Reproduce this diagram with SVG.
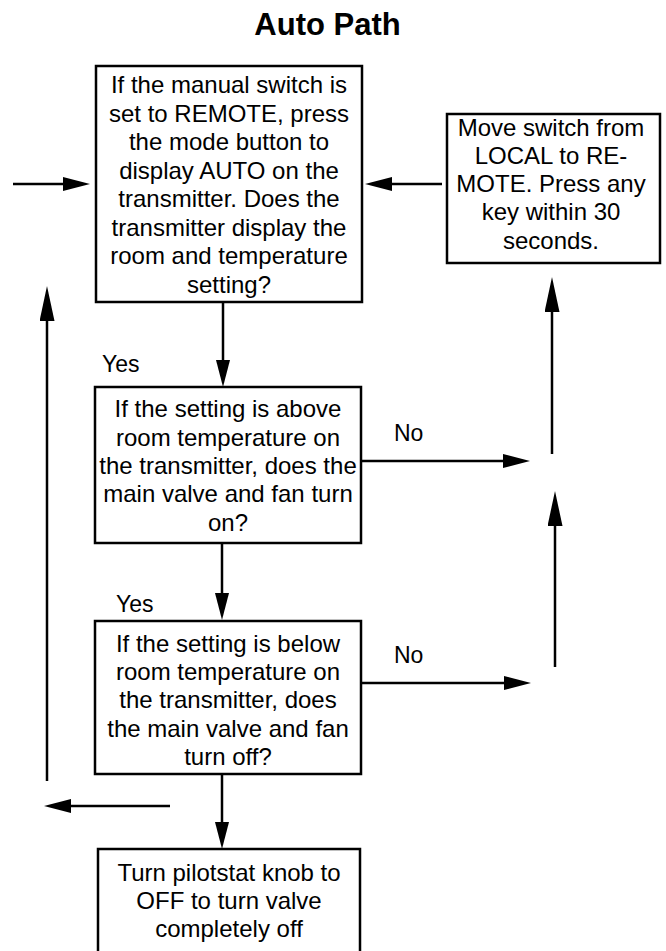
<svg xmlns="http://www.w3.org/2000/svg" width="666" height="951" viewBox="0 0 666 951">
  <style>
    .box { fill: #ffffff; stroke: #000000; stroke-width: 2.5; }
    .txt { font-family: "Liberation Sans", Arial, sans-serif; font-size: 24px; fill: #000000; text-anchor: middle; }
    .lbl { font-family: "Liberation Sans", Arial, sans-serif; font-size: 23px; fill: #000000; }
    .title { font-family: "Liberation Sans", Arial, sans-serif; font-size: 31px; font-weight: bold; fill: #000000; text-anchor: middle; }
    .conn { fill: none; stroke: #000000; stroke-width: 2.5; }
    .ah { marker-end: url(#arrow); }
    .ahv { marker-end: url(#arrowUp); }
  </style>
  <defs>
    <marker id="arrow" viewBox="0 0 27 14" refX="0" refY="7" markerWidth="27" markerHeight="14" markerUnits="userSpaceOnUse" orient="auto">
      <path d="M0,0 L27,7 L0,14 z" fill="#000000"/>
    </marker>
    <marker id="arrowUp" viewBox="0 0 35 15" refX="0" refY="7.5" markerWidth="35" markerHeight="15" markerUnits="userSpaceOnUse" orient="auto">
      <path d="M0,0 L35,7.5 L0,15 z" fill="#000000"/>
    </marker>
  </defs>

  <text class="title" x="327.5" y="35">Auto Path</text>

  <g id="connectors">
    <line class="conn ah" x1="13" y1="184" x2="63" y2="184"/>
    <line class="conn ah" x1="442" y1="184" x2="392" y2="184"/>
    <line class="conn ah" x1="223" y1="302" x2="223" y2="360"/>
    <line class="conn ah" x1="222" y1="543" x2="222" y2="593"/>
    <line class="conn ah" x1="222" y1="774" x2="222" y2="822"/>
    <line class="conn ah" x1="361" y1="461" x2="503" y2="461"/>
    <line class="conn ah" x1="362" y1="683" x2="504" y2="683"/>
    <line class="conn ahv" x1="552" y1="454" x2="552" y2="312"/>
    <line class="conn ahv" x1="555" y1="667" x2="555" y2="526"/>
    <line class="conn ahv" x1="47" y1="781" x2="47" y2="321"/>
    <line class="conn ah" x1="170" y1="806" x2="71" y2="806"/>
    <text class="lbl" x="102" y="372">Yes</text>
    <text class="lbl" x="116" y="612">Yes</text>
    <text class="lbl" x="394" y="441">No</text>
    <text class="lbl" x="394" y="663">No</text>
  </g>

  <g id="node-check-display">
    <rect class="box" x="96" y="66" width="266" height="236"/>
    <text class="txt" x="229" y="93">If the manual switch is</text>
    <text class="txt" x="229" y="122">set to REMOTE, press</text>
    <text class="txt" x="229" y="150">the mode button to</text>
    <text class="txt" x="229" y="179">display AUTO on the</text>
    <text class="txt" x="229" y="207">transmitter. Does the</text>
    <text class="txt" x="229" y="236">transmitter display the</text>
    <text class="txt" x="229" y="264">room and temperature</text>
    <text class="txt" x="229" y="293">setting?</text>
  </g>

  <g id="node-move-switch">
    <rect class="box" x="447" y="114" width="213" height="149"/>
    <text class="txt" x="551" y="136">Move switch from</text>
    <text class="txt" x="551" y="164">LOCAL to RE-</text>
    <text class="txt" x="551" y="192">MOTE. Press any</text>
    <text class="txt" x="551" y="220">key within 30</text>
    <text class="txt" x="551" y="249">seconds.</text>
  </g>

  <g id="node-above">
    <rect class="box" x="95" y="387" width="266" height="156"/>
    <text class="txt" x="228" y="417">If the setting is above</text>
    <text class="txt" x="228" y="446">room temperature on</text>
    <text class="txt" x="228" y="474">the transmitter, does the</text>
    <text class="txt" x="228" y="502">main valve and fan turn</text>
    <text class="txt" x="228" y="531">on?</text>
  </g>

  <g id="node-below">
    <rect class="box" x="95" y="621" width="266" height="153"/>
    <text class="txt" x="228" y="652">If the setting is below</text>
    <text class="txt" x="228" y="680">room temperature on</text>
    <text class="txt" x="228" y="708">the transmitter, does</text>
    <text class="txt" x="228" y="737">the main valve and fan</text>
    <text class="txt" x="228" y="765">turn off?</text>
  </g>

  <g id="node-pilotstat">
    <rect class="box" x="98" y="849" width="262" height="130"/>
    <text class="txt" x="229" y="881">Turn pilotstat knob to</text>
    <text class="txt" x="229" y="909">OFF to turn valve</text>
    <text class="txt" x="229" y="937">completely off</text>
  </g>
</svg>
